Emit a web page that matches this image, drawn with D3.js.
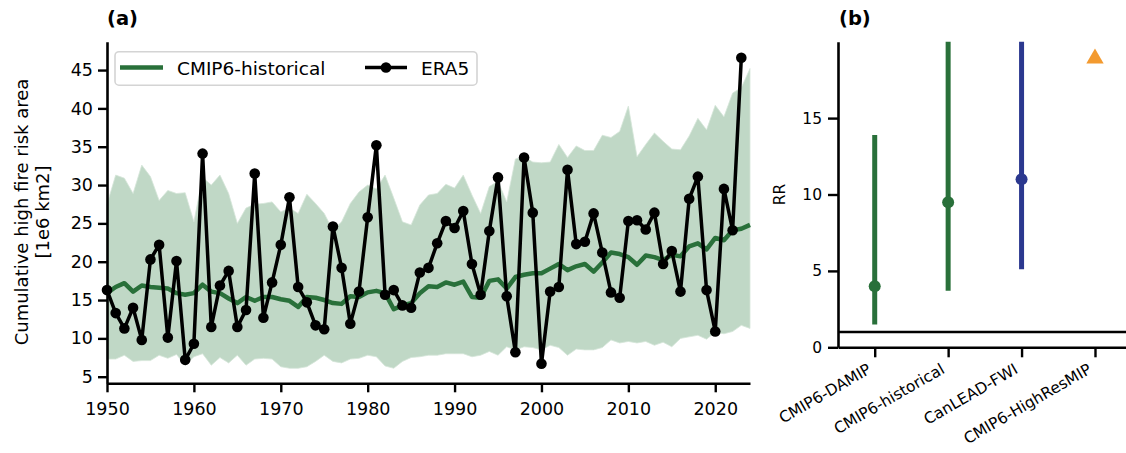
<!DOCTYPE html>
<html>
<head>
<meta charset="utf-8">
<script src="https://cdnjs.cloudflare.com/ajax/libs/d3/7.8.5/d3.min.js"></script>
<style>
body { margin: 0; background: #fff; }
text { font-family: "DejaVu Sans", sans-serif; fill: #000; }
</style>
</head>
<body>
<div id="chart-area"></div>
<script>
// panel (a) data
var cmipYears = d3.range(1950, 2025);
var era5Years = d3.range(1950, 2024);

var era5 = [16.3, 13.3, 11.3, 14.0, 9.8, 20.3, 22.2, 10.1, 20.1, 7.2,
    9.3, 34.1, 11.5, 16.9, 18.8, 11.5, 13.7, 31.5, 12.7, 17.3,
    22.2, 28.4, 16.7, 14.7, 11.7, 11.2, 24.6, 19.2, 11.9, 16.1,
    25.8, 35.2, 15.7, 16.3, 14.3, 14.0, 18.6, 19.2, 22.4, 25.3,
    24.4, 26.6, 19.7, 15.7, 24.0, 31.0, 15.5, 8.2, 33.6, 26.4,
    6.7, 16.1, 16.7, 32.0, 22.3, 22.6, 26.3, 21.2, 16.0, 15.3,
    25.3, 25.4, 24.2, 26.4, 19.7, 21.4, 16.1, 28.2, 31.1, 16.3,
    10.9, 29.5, 24.1, 46.6];

var cmipMean = [15.9, 16.7, 17.2, 16.1, 16.9, 16.7, 16.6, 16.5, 15.9, 15.7,
    15.9, 17.0, 16.1, 15.9, 15.2, 14.6, 15.4, 14.9, 15.4, 15.4,
    15.1, 14.9, 14.1, 15.4, 15.3, 15.0, 14.6, 14.5, 15.5, 15.4,
    16.0, 16.2, 15.9, 13.8, 14.3, 14.6, 15.9, 16.8, 16.7, 17.3,
    17.0, 17.4, 15.4, 15.3, 17.5, 17.7, 16.5, 18.0, 18.3, 18.5,
    18.5, 19.1, 19.7, 18.9, 19.4, 19.7, 18.7, 19.9, 21.2, 21.0,
    20.6, 19.6, 20.8, 20.6, 20.2, 20.9, 20.7, 22.0, 22.4, 21.6,
    23.1, 22.8, 24.1, 24.3, 24.8];

var cmipHigh = [27.5, 31.3, 30.9, 28.9, 32.6, 31.1, 28.0, 29.3, 28.9, 29.0,
    25.2, 31.0, 30.0, 31.3, 28.9, 25.0, 27.0, 27.5, 27.6, 27.8,
    26.5, 27.0, 26.3, 28.8, 27.6, 26.3, 24.1, 25.2, 27.6, 29.1,
    30.0, 29.5, 31.3, 28.3, 25.2, 24.8, 27.4, 28.7, 28.9, 30.1,
    29.6, 31.3, 28.7, 26.3, 29.8, 30.5, 27.8, 33.4, 33.7, 33.0,
    32.9, 33.0, 35.3, 33.6, 35.1, 34.5, 34.5, 36.5, 36.2, 37.0,
    40.3, 33.7, 35.3, 36.8, 35.7, 34.7, 34.6, 36.4, 38.7, 37.2,
    40.4, 38.9, 42.0, 42.7, 45.2];

var cmipLow = [7.3, 7.3, 7.8, 7.0, 7.1, 7.1, 7.8, 7.4, 7.9, 6.5,
    7.6, 8.0, 6.5, 7.5, 6.8, 7.8, 6.5, 7.3, 7.4, 7.3,
    6.3, 6.1, 6.1, 6.3, 7.0, 7.8, 7.0, 6.8, 7.3, 7.4,
    7.8, 7.6, 6.4, 6.1, 7.0, 7.5, 7.6, 7.8, 7.8, 8.0,
    8.0, 8.0, 7.6, 7.8, 8.3, 7.8, 8.9, 8.5, 8.9, 8.8,
    8.5, 9.1, 8.8, 7.8, 8.6, 8.5, 8.5, 8.8, 9.8, 9.4,
    9.6, 9.4, 9.6, 9.1, 9.5, 8.9, 10.0, 10.2, 10.4, 9.9,
    10.8, 10.6, 10.9, 11.7, 11.3];

var yTicksA = [5, 10, 15, 20, 25, 30, 35, 40, 45];
var xTicksA = [1950, 1960, 1970, 1980, 1990, 2000, 2010, 2020];

// panel (b) data
var rrModels = ["CMIP6-DAMIP", "CMIP6-historical", "CanLEAD-FWI", "CMIP6-HighResMIP"];
var rrBest = [4.0, 9.5, 11.0, null];
var rrLow = [1.5, 3.7, 5.1, null];
var rrHigh = [13.9, 30, 30, null];
var rrMarker = [null, null, null, 18.9];
var yTicksB = [0, 5, 10, 15];

var green = "#29703a", band = "#c0d8c6", blue = "#2b388f", orange = "#f39a2f";
var rrColors = [green, green, blue, orange];

var svg = d3.select('#chart-area').append('svg')
    .attr('width', 1126)
    .attr('height', 453)
    .style('background', '#fff');

// ---------- (a) ----------
var x = d3.scaleLinear().domain([1950, 2024]).range([107, 750]);
var y = d3.scaleLinear().domain([4.14, 48.7]).range([383.3, 41.7]);

var bandArea = d3.area()
    .x(function(d, i){ return x(cmipYears[i]); })
    .y0(function(d, i){ return y(cmipLow[i]); })
    .y1(function(d, i){ return y(cmipHigh[i]); });

svg.append('path')
    .datum(cmipYears)
    .attr('d', bandArea)
    .attr('fill', band)
    .attr('stroke', '#d6e6d9')
    .attr('stroke-width', 0.8);

var meanLine = d3.line()
    .x(function(d, i){ return x(cmipYears[i]); })
    .y(function(d){ return y(d); });

svg.append('path')
    .datum(cmipMean)
    .attr('d', meanLine)
    .attr('fill', 'none')
    .attr('stroke', green)
    .attr('stroke-width', 4.5)
    .attr('stroke-linejoin', 'round');

var eraLine = d3.line()
    .x(function(d, i){ return x(era5Years[i]); })
    .y(function(d){ return y(d); });

svg.append('path')
    .datum(era5)
    .attr('d', eraLine)
    .attr('fill', 'none')
    .attr('stroke', '#000')
    .attr('stroke-width', 3.5)
    .attr('stroke-linejoin', 'round');

svg.append('g').selectAll('circle')
    .data(era5)
    .enter()
    .append('circle')
        .attr('cx', function(d, i){ return x(era5Years[i]); })
        .attr('cy', function(d){ return y(d); })
        .attr('r', 5.3)
        .attr('fill', '#000');

function styleAxis(g, fs) {
    g.select('.domain').attr('stroke', '#000').attr('stroke-width', 2.6);
    g.selectAll('.tick line').attr('stroke', '#000').attr('stroke-width', 2.4);
    g.selectAll('.tick text')
        .attr('font-size', fs)
        .attr('font-family', '"DejaVu Sans", sans-serif');
}

svg.append('g')
    .attr('transform', 'translate(0,383.3)')
    .call(d3.axisBottom(x).tickValues(xTicksA).tickFormat(d3.format('d'))
        .tickSize(9).tickSizeOuter(0).tickPadding(10))
    .call(styleAxis, 17.5);

svg.append('g')
    .attr('transform', 'translate(107,0)')
    .call(d3.axisLeft(y).tickValues(yTicksA).tickSize(9).tickSizeOuter(0).tickPadding(5))
    .call(styleAxis, 17.5);

// legend
var leg = svg.append('g');
leg.append('rect')
    .attr('x', 115).attr('y', 51.7)
    .attr('width', 362).attr('height', 33.5)
    .attr('rx', 4)
    .attr('fill', '#fff').attr('fill-opacity', 0.8)
    .attr('stroke', '#d4d4d4').attr('stroke-width', 1.6);
leg.append('line')
    .attr('x1', 120).attr('x2', 163).attr('y1', 67.5).attr('y2', 67.5)
    .attr('stroke', green).attr('stroke-width', 4.5);
leg.append('text')
    .attr('x', 177).attr('y', 74.5)
    .attr('font-size', 18.5)
    .text('CMIP6-historical');
leg.append('line')
    .attr('x1', 365).attr('x2', 407).attr('y1', 67.5).attr('y2', 67.5)
    .attr('stroke', '#000').attr('stroke-width', 3.5);
leg.append('circle')
    .attr('cx', 386).attr('cy', 67.5).attr('r', 5.3).attr('fill', '#000');
leg.append('text')
    .attr('x', 421).attr('y', 74.5)
    .attr('font-size', 18.5)
    .text('ERA5');

svg.append('text')
    .attr('x', 107).attr('y', 25)
    .attr('font-size', 19.5).attr('font-weight', 'bold')
    .text('(a)');

var ylab = svg.append('text')
    .attr('transform', 'translate(28,212) rotate(-90)')
    .attr('text-anchor', 'middle')
    .attr('font-size', 18);
ylab.append('tspan').attr('x', 0).attr('y', 0).text('Cumulative high fire risk area');
ylab.append('tspan').attr('x', 0).attr('y', 21).text('[1e6 km2]');

// ---------- (b) ----------
var xb = d3.scaleLinear().domain([-0.5, 3.5]).range([838, 1131.7]);
var yb = d3.scaleLinear().domain([0, 20]).range([347.3, 41.7]);

svg.append('clipPath').attr('id', 'clipb')
    .append('rect').attr('x', 838).attr('y', 41.7).attr('width', 300).attr('height', 306);

var pb = svg.append('g').attr('clip-path', 'url(#clipb)');

pb.append('line')
    .attr('x1', xb(-0.5)).attr('x2', xb(3.5))
    .attr('y1', yb(1)).attr('y2', yb(1))
    .attr('stroke', '#000').attr('stroke-width', 2.6);

pb.selectAll('.bar')
    .data(rrModels)
    .enter()
    .filter(function(d, i){ return rrLow[i] != null; })
    .append('line')
        .attr('class', 'bar')
        .attr('x1', function(d){ return xb(rrModels.indexOf(d)); })
        .attr('x2', function(d){ return xb(rrModels.indexOf(d)); })
        .attr('y1', function(d){ return yb(rrLow[rrModels.indexOf(d)]); })
        .attr('y2', function(d){ return yb(rrHigh[rrModels.indexOf(d)]); })
        .attr('stroke', function(d){ return rrColors[rrModels.indexOf(d)]; })
        .attr('stroke-width', 5);

pb.selectAll('.best')
    .data(rrModels)
    .enter()
    .filter(function(d, i){ return rrBest[i] != null; })
    .append('circle')
        .attr('class', 'best')
        .attr('cx', function(d){ return xb(rrModels.indexOf(d)); })
        .attr('cy', function(d){ return yb(rrBest[rrModels.indexOf(d)]); })
        .attr('r', 6)
        .attr('fill', function(d){ return rrColors[rrModels.indexOf(d)]; });

pb.selectAll('.tri')
    .data(rrModels)
    .enter()
    .filter(function(d, i){ return rrMarker[i] != null; })
    .append('path')
        .attr('class', 'tri')
        .attr('d', d3.symbol().type(d3.symbolTriangle).size(130))
        .attr('transform', function(d){
            var i = rrModels.indexOf(d);
            return 'translate(' + xb(i) + ',' + yb(rrMarker[i]) + ')';
        })
        .attr('fill', function(d){ return rrColors[rrModels.indexOf(d)]; });

svg.append('g')
    .attr('transform', 'translate(0,347.3)')
    .call(d3.axisBottom(xb).tickValues([0, 1, 2, 3])
        .tickFormat(function(d){ return rrModels[d]; })
        .tickSize(10).tickSizeOuter(0))
    .call(styleAxis, 15.5)
    .selectAll('.tick text')
        .attr('x', 0).attr('y', 0).attr('dy', 0)
        .attr('text-anchor', 'end')
        .attr('transform', 'translate(-3,25) rotate(-30)');

svg.append('g')
    .attr('transform', 'translate(838,0)')
    .call(d3.axisLeft(yb).tickValues(yTicksB).tickSize(10).tickSizeOuter(0).tickPadding(6))
    .call(styleAxis, 15.5);

svg.append('text')
    .attr('transform', 'translate(785,194.5) rotate(-90)')
    .attr('text-anchor', 'middle')
    .attr('font-size', 15.5)
    .text('RR');

svg.append('text')
    .attr('x', 839).attr('y', 25)
    .attr('font-size', 19.5).attr('font-weight', 'bold')
    .text('(b)');
</script>
</body>
</html>
